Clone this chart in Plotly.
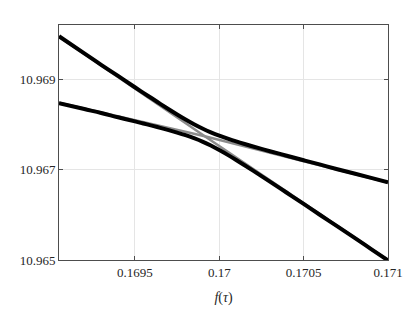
import plotly.graph_objects as go

# sample points along f(tau)
f_tau = [0.16905, 0.1692, 0.1693, 0.1694, 0.1695, 0.16955, 0.1696, 0.16965,
         0.1697, 0.16975, 0.1698, 0.16985, 0.1699, 0.16995, 0.17, 0.17005,
         0.1701, 0.17015, 0.1702, 0.17025, 0.1703, 0.1704, 0.1705, 0.1706,
         0.1707, 0.1708, 0.1709, 0.171]

# upper branch (black)
upper = [10.969951, 10.969571, 10.969319, 10.969073, 10.968823, 10.968699,
         10.968578, 10.968456, 10.968336, 10.968220, 10.968108, 10.968003,
         10.967909, 10.967825, 10.967750, 10.967684, 10.967623, 10.967566,
         10.967512, 10.967459, 10.967407, 10.967307, 10.967208, 10.967110,
         10.967008, 10.966913, 10.966817, 10.966721]

# lower branch (black)
lower = [10.968471, 10.968340, 10.968253, 10.968158, 10.968067, 10.968020,
         10.967974, 10.967925, 10.967874, 10.967820, 10.967762, 10.967696,
         10.967621, 10.967532, 10.967433, 10.967326, 10.967213, 10.967096,
         10.966978, 10.966857, 10.966734, 10.966488, 10.966241, 10.965990,
         10.965745, 10.965495, 10.965242, 10.964991]

# uncoupled lines (grey)
grey_x = [0.16905, 0.169914, 0.171]
grey_steep = [10.969939, 10.967740, 10.965000]
grey_flat = [10.968481, 10.967740, 10.966713]

x_ticks = [0.1695, 0.17, 0.1705, 0.171]
x_labels = ["0.1695", "0.17", "0.1705", "0.171"]
y_ticks = [10.965, 10.967, 10.969]
y_labels = ["10.965", "10.967", "10.969"]

serif = "Liberation Serif"

fig = go.Figure()
for gy in (grey_steep, grey_flat):
    fig.add_trace(go.Scatter(x=grey_x, y=gy, mode="lines",
                             line=dict(color="#8c8c8c", width=2.5)))
for by in (upper, lower):
    fig.add_trace(go.Scatter(x=f_tau, y=by, mode="lines",
                             line=dict(color="black", width=4, shape="spline")))

axis_style = dict(showline=True, linecolor="#4d4d4d", linewidth=1, mirror="ticks",
                  ticks="inside", ticklen=4, tickcolor="#4d4d4d",
                  showgrid=True, gridcolor="#e5e5e5", gridwidth=1, zeroline=False,
                  tickfont=dict(family=serif, size=13, color="#262626"))

fig.update_xaxes(range=[0.16905, 0.171], tickvals=x_ticks, ticktext=x_labels,
                 title=dict(text="<i>f</i>(<i>τ</i>)", standoff=13,
                            font=dict(family=serif, size=14, color="#262626")),
                 **axis_style)
fig.update_yaxes(range=[10.965, 10.9702], tickvals=y_ticks, ticktext=y_labels,
                 **axis_style)

# page body adds 8px, so the figure is 8px smaller than the window
fig.update_layout(width=407, height=313, showlegend=False,
                  font=dict(family=serif),
                  paper_bgcolor="white", plot_bgcolor="white",
                  margin=dict(l=49, r=24, t=17, b=61))

fig.write_html("out.html")
